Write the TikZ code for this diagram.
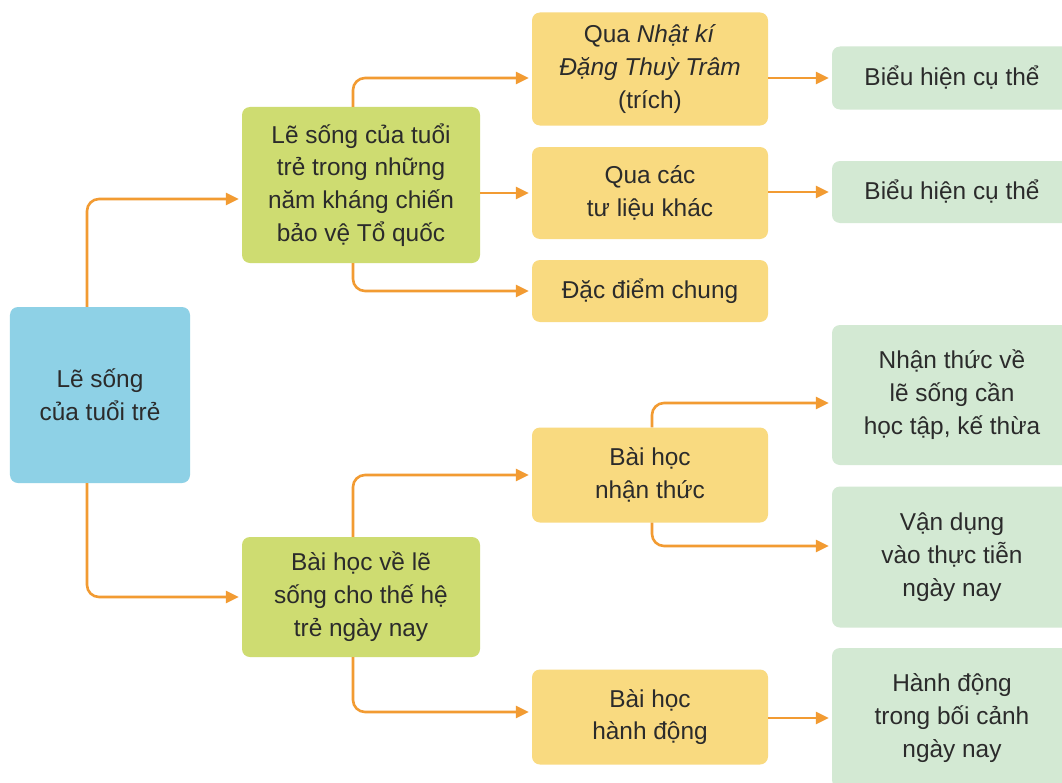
\documentclass[tikz,border=0pt]{standalone}
\usepackage{fontspec}
\setmainfont{Liberation Sans}
\usetikzlibrary{arrows.meta}

\definecolor{rootblue}{HTML}{8ED1E6}
\definecolor{limegreen}{HTML}{CEDC71}
\definecolor{softyellow}{HTML}{F9DA80}
\definecolor{palegreen}{HTML}{D3E9D3}
\definecolor{linkorange}{HTML}{F29B32}
\definecolor{textgray}{HTML}{2B2B2B}

\tikzset{
    box/.style={rounded corners=8bp, align=center, text=textgray, inner sep=0pt,
        font=\fontsize{24.5}{33}\selectfont},
    rootbox/.style={box, fill=rootblue, minimum width=180bp},
    topicbox/.style={box, fill=limegreen, minimum width=238bp},
    middlebox/.style={box, fill=softyellow, minimum width=236bp},
    leafbox/.style={box, fill=palegreen, minimum width=240bp},
    link/.style={linkorange, line width=2.6bp, rounded corners=12bp, shorten >=3bp,
        -{Triangle[length=13bp,width=12bp]}}
}

\begin{document}
\begin{tikzpicture}[x=1bp, y=-1bp]
        \useasboundingbox (0,0) rectangle (1062,783);
        \fill[white] (0,0) rectangle (1062,783);

        \node[rootbox, minimum height=176bp] (root) at (100,395) {Lẽ sống\\của tuổi trẻ};

        \node[topicbox, minimum height=156bp] (warLife) at (361,185) {Lẽ sống của tuổi\\trẻ trong những\\năm kháng chiến\\bảo vệ Tổ quốc};
        \node[topicbox, minimum height=120bp] (lesson) at (361,597) {Bài học về lẽ\\sống cho thế hệ\\trẻ ngày nay};

        \node[middlebox, minimum height=113bp] (diary) at (650,69) {Qua \textit{Nhật kí}\\\textit{Đặng Thuỳ Trâm}\\(trích)};
        \node[middlebox, minimum height=92bp] (sources) at (650,193) {Qua các\\tư liệu khác};
        \node[middlebox, minimum height=62bp] (common) at (650,291) {Đặc điểm chung};
        \node[middlebox, minimum height=95bp] (aware) at (650,475) {Bài học\\nhận thức};
        \node[middlebox, minimum height=95bp] (act) at (650,717) {Bài học\\hành động};

        \node[leafbox, minimum height=63bp] (showA) at (952,78) {Biểu hiện cụ thể};
        \node[leafbox, minimum height=62bp] (showB) at (952,192) {Biểu hiện cụ thể};
        \node[leafbox, minimum height=140bp] (learn) at (952,395) {Nhận thức về\\lẽ sống cần\\học tập, kế thừa};
        \node[leafbox, minimum height=141bp] (apply) at (952,557) {Vận dụng\\vào thực tiễn\\ngày nay};
        \node[leafbox, minimum height=140bp] (deed) at (952,718) {Hành động\\trong bối cảnh\\ngày nay};

        \draw[link] ([xshift=-13bp]root.north) |- ([yshift=-14bp]warLife.west);
        \draw[link] ([xshift=-13bp]root.south) |- (lesson.west);

        \draw[link] ([xshift=-8bp]warLife.north) |- ([yshift=-9bp]diary.west);
        \draw[link] (sources.west -| warLife.east) -- (sources.west);
        \draw[link] ([xshift=-8bp]warLife.south) |- (common.west);

        \draw[link] ([xshift=-8bp]lesson.north) |- (aware.west);
        \draw[link] ([xshift=-8bp]lesson.south) |- ([yshift=5bp]act.west);

        \draw[link] (showA.west -| diary.east) -- (showA.west);
        \draw[link] (showB.west -| sources.east) -- (showB.west);
        \draw[link] ([xshift=2bp]aware.north) |- ([yshift=-8bp]learn.west);
        \draw[link] ([xshift=2bp]aware.south) |- ([yshift=11bp]apply.west);
        \draw[link] (deed.west -| act.east) -- (deed.west);

    \end{tikzpicture}
\end{document}
